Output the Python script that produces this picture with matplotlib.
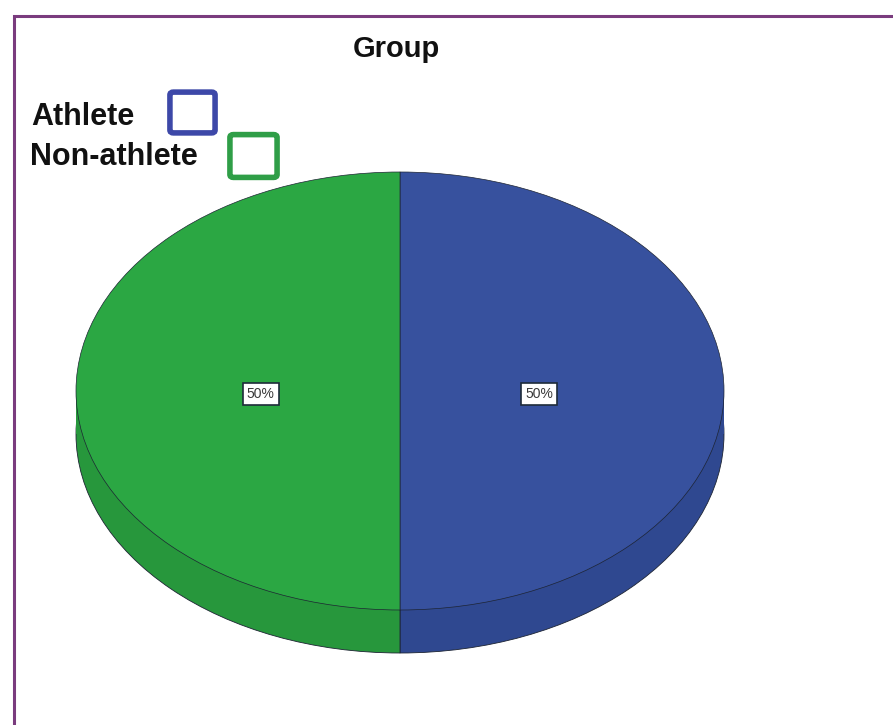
import matplotlib
matplotlib.use("Agg")
import matplotlib.pyplot as plt
from matplotlib.patches import FancyBboxPatch, Rectangle

# data
groups = ["Athlete", "Non-athlete"]
shares = [50, 50]
top_colors = ["#37519e", "#2ba743"]
side_colors = ["#2f4890", "#27973c"]
legend_colors = ["#3d48a8", "#2f9e47"]

W, H = 893, 725
plt.rcParams['font.family'] = ['Liberation Sans', 'DejaVu Sans']

fig = plt.figure(figsize=(W / 100, H / 100), dpi=100)


def fx(x):
    return x / W


def fy(y):
    return 1 - y / H


# purple frame (runs off the right and bottom edges)
fig.add_artist(Rectangle((fx(14), fy(760)), fx(900), 744 / H, transform=fig.transFigure,
                         fill=False, edgecolor="#7a3c7e", linewidth=2.2))

# pie axes: top face 76..724 x 172..610 px, side depth 43 px
depth = 43 / 219
ax = fig.add_axes([fx(76), 72 / H, 648 / W, 481 / H])

# side of the "3D" pie
ax.pie(shares, colors=side_colors, startangle=90, counterclock=False,
       center=(0, -depth), frame=True,
       wedgeprops=dict(edgecolor="#1d2433", linewidth=0.6))
ax.bar([0.5, -0.5], [depth, depth], bottom=-depth, width=1.0,
       color=side_colors, linewidth=0)

# top face
wedges, texts, autotexts = ax.pie(
    shares, colors=top_colors, startangle=90, counterclock=False,
    center=(0, 0), frame=True, autopct='%1.0f%%', pctdistance=0.43,
    wedgeprops=dict(edgecolor="#1d2433", linewidth=0.5),
    textprops=dict(fontsize=10, color="#3a3a3a"))
for t in autotexts:
    t.set_y(t.get_position()[1] - 0.015)
    t.set_bbox(dict(boxstyle="square,pad=0.28", facecolor="white",
                    edgecolor="#1e2b3a", linewidth=1.2))

ax.set_aspect('auto')
ax.set_xlim(-1, 1)
ax.set_ylim(-1 - depth, 1)
ax.axis('off')

# legend
fig.text(fx(396), fy(57), "Group", ha="center", va="baseline",
         fontsize=21, fontweight="bold", color="#111111")

label_pos = [(31, 125), (30, 165)]
box_pos = [(192.5, 112.5, 46, 43), (253.5, 156, 48, 45)]
for name, col, (tx, ty), (bx, by, bw, bh) in zip(groups, legend_colors, label_pos, box_pos):
    fig.text(fx(tx), fy(ty), name, ha="left", va="baseline",
             fontsize=22, fontweight="bold", color="#111111")
    fig.add_artist(FancyBboxPatch((fx(bx - bw / 2 + 4), fy(by + bh / 2 - 4)),
                                  (bw - 8) / W, (bh - 8) / H,
                                  boxstyle="round,pad=0.004",
                                  transform=fig.transFigure, facecolor="white",
                                  edgecolor=col, linewidth=4))

fig.savefig("out.png", dpi=100)
